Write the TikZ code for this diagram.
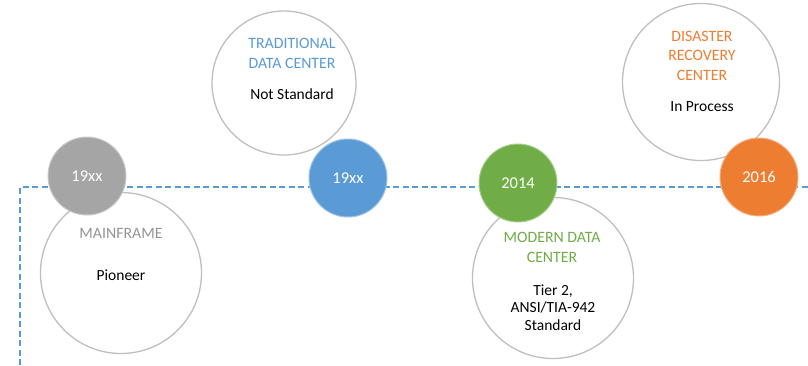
\documentclass[tikz,border=0pt]{standalone}
\usepackage{fontspec}
\setmainfont{Carlito}
\definecolor{cgray}{HTML}{A5A5A5}
\definecolor{cblue}{HTML}{5B9BD5}
\definecolor{cgreen}{HTML}{70AD47}
\definecolor{corange}{HTML}{ED7D31}
\definecolor{ring}{HTML}{BFBFBF}
\definecolor{ttlgray}{HTML}{959595}
\tikzset{
  bigc/.style={circle, draw=ring, line width=1.3pt, fill=white, minimum size=#1, inner sep=0pt},
  yearc/.style={circle, fill=#1, draw=#1!60!white, line width=1pt, minimum size=78pt, inner sep=0pt,
     text=white, font=\fontsize{16.5}{18}\selectfont},
  ttl/.style={align=center, text=#1, font=\fontsize{15.8}{19.5}\selectfont, inner sep=0pt},
  body/.style={align=center, text=black, font=\fontsize{15.5}{17.5}\selectfont, inner sep=0pt},
  tline/.style={draw=cblue, line width=2pt, dash pattern=on 6pt off 3.5pt}
}
\begin{document}
\begin{tikzpicture}[x=1pt,y=-1pt]
\useasboundingbox (0,0) rectangle (808,365);
% timeline
\coordinate (tl0) at (20,365);
\coordinate (tl1) at (20,187);
\coordinate (tl2) at (808,187);
\draw[tline] (tl0) -- (tl1) -- (tl2);
% big circles
\node[bigc=161pt] (mf) at (121,273) {};
\node[bigc=144pt] (tr) at (284,83) {};
\node[bigc=161pt] (md) at (553,278) {};
\node[bigc=157pt] (dr) at (701,82) {};
% year circles
\node[yearc=cgray] (y1) at (87,176) {19xx};
\node[yearc=cblue] (y2) at (348,178) {19xx};
\node[yearc=cgreen] (y3) at (518,183) {2014};
\node[yearc=corange] (y4) at (759,177) {2016};
% texts
\node[ttl=ttlgray] (mft) at (121,233) {MAINFRAME};
\node[body] (mfb) at (121,275) {Pioneer};
\node[ttl=cblue] (trt) at (292,53.5) {TRADITIONAL\\DATA CENTER};
\node[body] (trb) at (292,94) {Not Standard};
\node[ttl=cgreen] (mdt) at (552,247.5) {MODERN DATA\\CENTER};
\node[body] (mdb) at (553,307.5) {Tier 2,\\ANSI/TIA-942\\Standard};
\node[ttl=corange] (drt) at (702,55.5) {DISASTER\\RECOVERY\\CENTER};
\node[body] (drb) at (702,107) {In Process};
\end{tikzpicture}
\end{document}
